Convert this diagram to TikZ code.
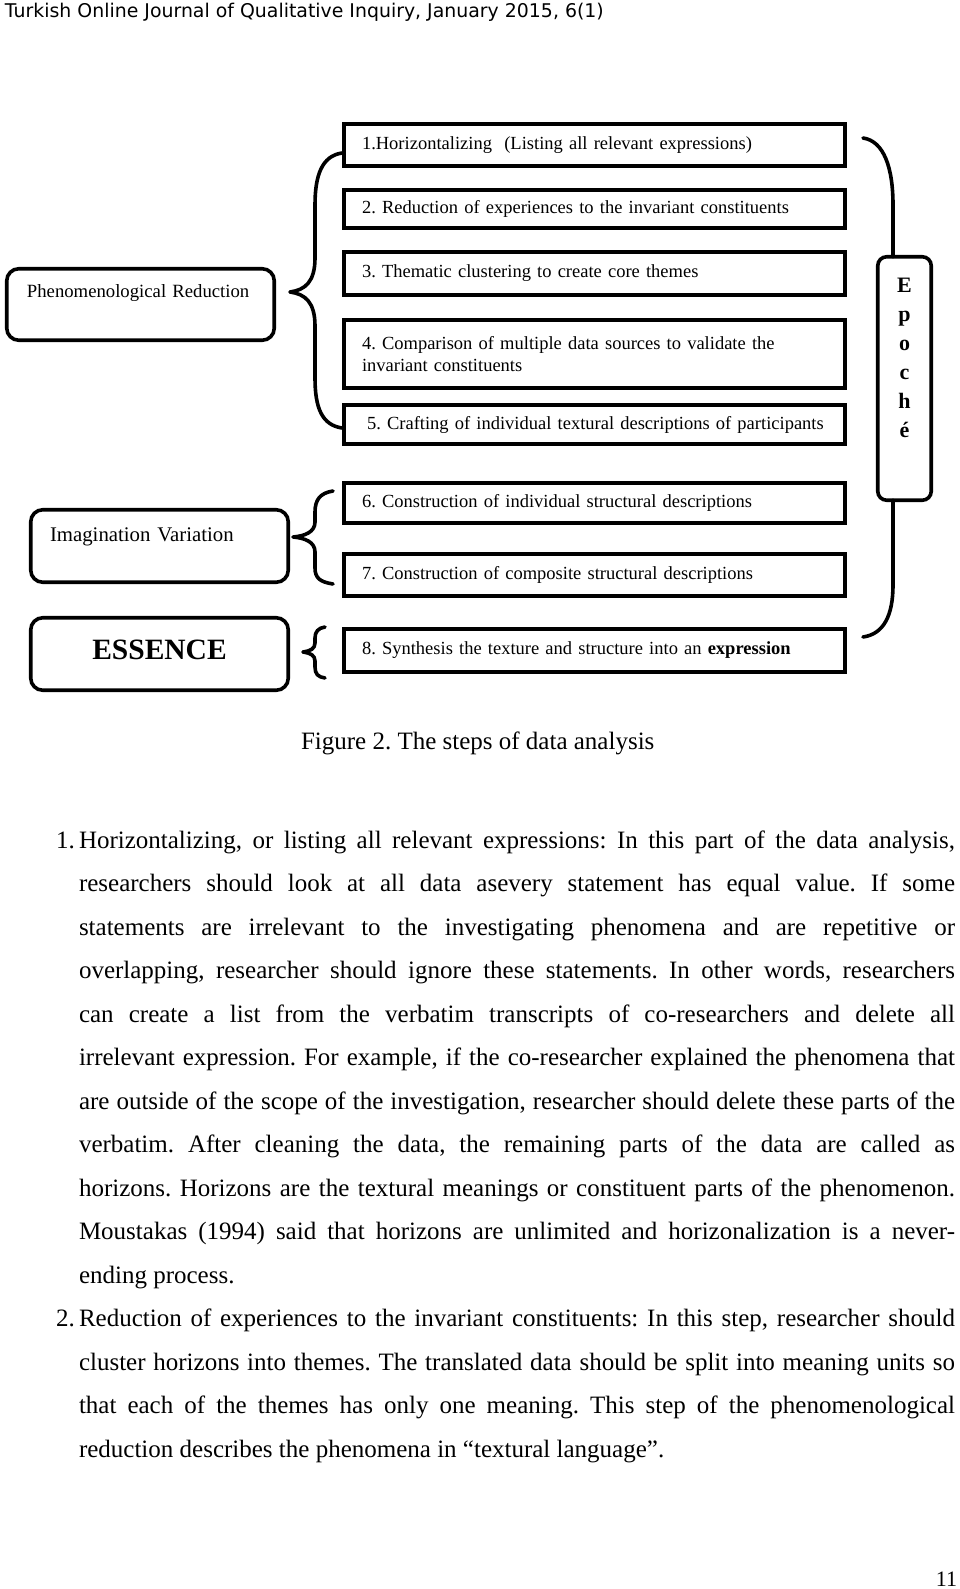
\documentclass[tikz,border=0pt]{standalone}
\usepackage{fontspec}
\setmainfont{Liberation Serif}
\newfontfamily\hdrfont{DejaVu Sans}
\usetikzlibrary{calc}
\newcommand\jl[3]{\node[body] (#1) at (79,#2) {\makebox[876pt][s]{#3}};}
\frenchspacing
\begin{document}
\begin{tikzpicture}[x=1pt,y=-1pt,
  every node/.style={outer sep=0pt},
  stepbox/.style={draw, line width=3.6pt, inner xsep=18.25pt, inner ysep=0pt, text width=465pt, align=left, font=\fontsize{18.5}{22}\selectfont},
  roundbox/.style={draw, line width=3.6pt, rounded corners=12pt, inner ysep=0pt},
  brace/.style={line width=3.6pt, line cap=round, line join=round},
  body/.style={anchor=base west, inner sep=0pt, font=\fontsize{25}{28}\selectfont},
  plain/.style={anchor=base west, inner sep=0pt},
]
\useasboundingbox (0,0) rectangle (960,1589);

% header
\node[plain, font=\hdrfont\fontsize{18.9}{22}\selectfont] (hdr) at (5,18) {Turkish Online Journal of Qualitative Inquiry, January 2015, 6(1)};

% step boxes
\node[stepbox, minimum height=42.5pt] (s1) at (594.5,145) {1.Horizontalizing\ \ (Listing all relevant expressions)};
\node[stepbox, minimum height=38.5pt] (s2) at (594.5,209) {2. Reduction of experiences to the invariant constituents};
\node[stepbox, minimum height=43.5pt] (s3) at (594.5,273.5) {3. Thematic clustering to create core themes};
\node[stepbox, minimum height=68.5pt] (s4) at (594.5,354) {4. Comparison of multiple data sources to validate the\\invariant constituents};
\node[stepbox, minimum height=39.5pt] (s5) at (594.5,424.5) {\hspace*{5pt}5. Crafting of individual textural descriptions of participants};
\node[stepbox, minimum height=40.5pt] (s6) at (594.5,503) {6. Construction of individual structural descriptions};
\node[stepbox, minimum height=42.5pt] (s7) at (594.5,575) {7. Construction of composite structural descriptions};
\node[stepbox, minimum height=43.5pt] (s8) at (594.5,650.5) {8. Synthesis the texture and structure into an \textbf{expression}};

% left rounded boxes
\node[roundbox, anchor=north west, inner xsep=20.25pt, text width=227pt, align=left, text height=29.25pt, text depth=42.25pt, font=\fontsize{18.7}{22}\selectfont] (pr) at (6.75,268.75) {\mbox{Phenomenological Reduction}};
\node[roundbox, anchor=north west, inner xsep=19.25pt, text width=219pt, align=left, text height=31.25pt, text depth=41.25pt, font=\fontsize{20.8}{24}\selectfont] (iv) at (30.75,509.75) {\mbox{Imagination Variation}};
\node[roundbox, anchor=north west, inner xsep=0pt, text width=257.5pt, align=center, text height=41.25pt, text depth=31.25pt, font=\bfseries\fontsize{29.5}{34}\selectfont] (es) at (30.75,617.75) {ESSENCE};

% Epoche box
\node[draw, line width=3.6pt, rounded corners=9pt, minimum width=53.5pt, minimum height=243.5pt, inner sep=0pt] (ep) at (904.5,378.5) {};
\node[anchor=base, inner sep=0pt, font=\bfseries\fontsize{22}{29}\selectfont] (eptxt) at (904.5,292) {\renewcommand\arraystretch{1}\begin{tabular}[t]{@{}c@{}}E\\p\\o\\c\\h\\é\end{tabular}};

% Epoche connectors
\coordinate (etop) at (863,138);
\coordinate (ebot) at (863,637);
\draw[brace] (etop) .. controls (884,141) and (893,168) .. (893,205) -- ([xshift=-11.5pt]ep.north);
\draw[brace] ([xshift=-11.5pt]ep.south) -- (893,585) .. controls (893,615) and (884,634) .. (ebot);

% braces
\draw[brace] (342,153) .. controls (322,156) and (315,175) .. (315,205) -- (315,258) .. controls (315,282) and (305,290) .. (290,292) .. controls (305,294) and (315,302) .. (315,326) -- (315,378) .. controls (315,408) and (322,425) .. (342,428);
\draw[brace] (333,491) .. controls (320,493) and (315,500) .. (315,512) -- (315,522) .. controls (315,532) and (305,536) .. (293,537) .. controls (305,538) and (315,542) .. (315,552) -- (315,568) .. controls (315,578) and (320,582) .. (333,584);
\draw[brace] (325,627) .. controls (318,628) and (315,632) .. (315,638) -- (315,643) .. controls (315,649) and (310,651) .. (303,652) .. controls (310,653) and (315,655) .. (315,661) -- (315,667) .. controls (315,674) and (318,677) .. (325,678);

% caption
\node[plain, font=\fontsize{25}{28}\selectfont] (cap) at (301,749) {Figure 2. The steps of data analysis};

% body text
\node[body] (n1) at (56,848) {1.};
\jl{l1}{848}{Horizontalizing, or listing all relevant expressions: In this part of the data analysis,}
\jl{l2}{891.5}{researchers should look at all data asevery statement has equal value. If some}
\jl{l3}{935}{statements are irrelevant to the investigating phenomena and are repetitive or}
\jl{l4}{978.5}{overlapping, researcher should ignore these statements. In other words, researchers}
\jl{l5}{1022}{can create a list from the verbatim transcripts of co-researchers and delete all}
\jl{l6}{1065.5}{irrelevant expression. For example, if the co-researcher explained the phenomena that}
\jl{l7}{1109}{are outside of the scope of the investigation, researcher should delete these parts of the}
\jl{l8}{1152.5}{verbatim. After cleaning the data, the remaining parts of the data are called as}
\jl{l9}{1196}{horizons. Horizons are the textural meanings or constituent parts of the phenomenon.}
\jl{l10}{1239.5}{Moustakas (1994) said that horizons are unlimited and horizonalization is a never-}
\node[body] (l11) at (79,1283) {ending process.};
\node[body] (n2) at (56,1326.5) {2.};
\jl{l12}{1326.5}{Reduction of experiences to the invariant constituents: In this step, researcher should}
\jl{l13}{1370}{cluster horizons into themes. The translated data should be split into meaning units so}
\jl{l14}{1413.5}{that each of the themes has only one meaning. This step of the phenomenological}
\node[body] (l15) at (79,1457) {reduction describes the phenomena in “textural language”.};

% page number
\node[anchor=base east, inner sep=0pt, font=\fontsize{22}{24}\selectfont] (pg) at (957,1586) {11};
\end{tikzpicture}
\end{document}
